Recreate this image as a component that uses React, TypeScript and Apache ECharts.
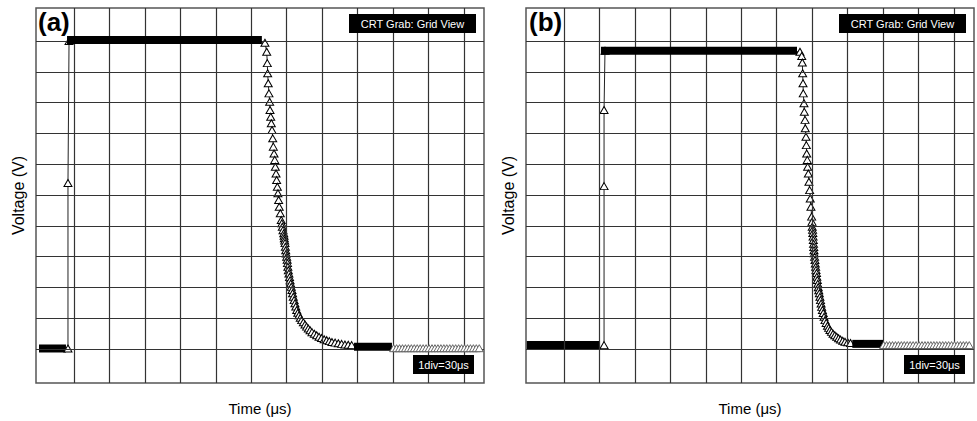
import React, { useEffect, useRef } from "react";
import * as echarts from "echarts";

// Grid divisions (1 div = 30 µs horizontally, 1 div vertically)
const gridTimes = [0, 30, 60, 90, 120, 150, 180, 210, 240, 270, 300, 330];
const gridVolts = [0, 1, 2, 3, 4, 5, 6, 7, 8, 9, 10];

// Panel (a): rise samples followed by the decay samples
const aTimes = [-5.1, -5.1, -4.2, 161.6, 163.1, 163.6, 163.9, 164.4, 165.0, 165.6, 165.9, 166.5, 167.0, 167.6, 168.2, 168.7, 169.3, 169.9, 170.4, 171.0, 171.5, 172.1, 172.6, 173.2, 173.7, 174.6, 175.4, 175.9, 176.3, 176.9, 177.5, 177.8, 178.0, 178.3, 178.6, 178.9, 179.2, 179.6, 180.0, 180.4, 180.7, 181.0, 181.4, 181.9, 182.4, 182.9, 183.4, 183.9, 184.5, 185.0, 185.6, 186.3, 187.0, 187.7, 188.5, 189.4, 190.4, 191.5, 192.7, 194.1, 195.5, 196.9, 198.3, 199.8, 201.4, 203.4, 205.4, 207.4, 209.5, 211.7, 213.9, 216.1, 218.3, 221.0, 223.7, 226.5, 229.3, 232.1, 235.0];
const aVolts = [0.02, 5.39, 10.0, 9.94, 9.65, 9.28, 8.95, 8.63, 8.30, 8.03, 7.76, 7.54, 7.33, 7.11, 6.84, 6.57, 6.35, 6.14, 5.92, 5.70, 5.49, 5.27, 5.06, 4.84, 4.62, 4.41, 4.19, 4.08, 3.97, 3.86, 3.76, 3.68, 3.60, 3.52, 3.44, 3.32, 3.21, 3.10, 3.00, 2.90, 2.79, 2.67, 2.56, 2.45, 2.34, 2.23, 2.13, 2.02, 1.92, 1.81, 1.70, 1.59, 1.49, 1.38, 1.27, 1.18, 1.10, 1.02, 0.94, 0.87, 0.80, 0.73, 0.67, 0.61, 0.55, 0.50, 0.45, 0.40, 0.36, 0.32, 0.29, 0.26, 0.23, 0.21, 0.19, 0.17, 0.15, 0.14, 0.13];
const aLowRun = [-29.6, -6.8];
const aLowLevel = 0.02;
const aHighRun = [-5.9, 159.0];
const aHighLevel = 10.03;
const aTailRun = [237.0, 269.1];
const aTailLevel = 0.08;
const aHatchLevel = 0.03;

// Panel (b)
const bTimes = [33.9, 33.9, 33.9, 34.7, 199.7, 201.2, 201.7, 202.0, 202.3, 202.5, 203.1, 203.4, 204.0, 204.2, 204.8, 205.1, 205.4, 205.9, 206.2, 206.8, 207.3, 207.9, 208.4, 209.0, 209.6, 209.9, 210.1, 210.4, 210.6, 210.8, 211.0, 211.2, 211.4, 211.6, 211.8, 212.1, 212.4, 212.7, 213.0, 213.3, 213.7, 214.0, 214.4, 214.8, 215.2, 215.6, 216.1, 216.6, 217.1, 217.6, 218.1, 218.7, 219.4, 220.1, 220.9, 221.9, 223.0, 224.0, 225.1, 226.4, 227.7, 229.2, 230.8, 232.4, 234.0, 235.9, 237.8, 240.1, 242.5];
const bVolts = [0.13, 5.29, 7.76, 9.68, 9.65, 9.51, 9.30, 8.95, 8.63, 8.30, 7.98, 7.70, 7.44, 7.17, 6.89, 6.62, 6.35, 6.14, 5.92, 5.70, 5.43, 5.16, 4.89, 4.62, 4.30, 4.13, 3.97, 3.87, 3.77, 3.65, 3.54, 3.42, 3.31, 3.21, 3.11, 3.00, 2.89, 2.78, 2.67, 2.57, 2.47, 2.35, 2.24, 2.12, 2.01, 1.91, 1.81, 1.70, 1.59, 1.48, 1.37, 1.27, 1.17, 1.05, 0.94, 0.85, 0.76, 0.69, 0.62, 0.56, 0.50, 0.45, 0.40, 0.35, 0.31, 0.27, 0.24, 0.22, 0.20];
const bLowRun = [-31.5, 30.5];
const bLowLevel = 0.13;
const bHighRun = [31.3, 197.2];
const bHighLevel = 9.68;
const bTailRun = [244.0, 270.0];
const bTailLevel = 0.17;
const bHatchLevel = 0.13;

// Sparser samples at the end of both traces
const hatchTimes = [270.5, 273, 275.5, 278, 280.5, 283, 285.5, 288, 290.5, 293, 295.5, 298, 300.5, 303, 305.5, 308, 310.5, 313, 315.5, 318, 320.5, 323, 325.5, 328, 330.5, 333, 335.5, 338, 340.5, 343];

const xMin = -32.16;
const xMax = 347.0;
const yMin = -1.1;
const yMax = 11.07;

const FONT = '"Liberation Sans", Arial, Helvetica, sans-serif';

function zip(t: number[], v: number[]) {
  return t.map((x, i) => [x, v[i]]);
}
function run(t: number[], level: number) {
  return t.map((x) => [x, level]);
}

function panelSeries(idx: number, times: number[], volts: number[], low: number[], lowL: number, high: number[], highL: number, tail: number[], tailL: number, hatchL: number) {
  const tri = { symbol: "triangle", symbolSize: [8, 7] };
  const bar = (data: number[][], z: number) => ({
    type: "line",
    xAxisIndex: idx,
    yAxisIndex: idx,
    data,
    symbol: "none",
    lineStyle: { color: "#000", width: 8, cap: "butt" },
    z,
  });
  return [
    {
      type: "line",
      xAxisIndex: idx,
      yAxisIndex: idx,
      data: [],
      z: 1,
      markLine: {
        silent: true,
        symbol: ["none", "none"],
        label: { show: false },
        lineStyle: { color: "#333", width: 1.2, type: "solid" },
        emphasis: { disabled: true },
        data: [
          ...gridTimes.map((t) => ({ xAxis: t })),
          ...gridVolts.map((v) => ({ yAxis: v })),
        ],
      },
    },
    bar(run(low, lowL), 3),
    {
      type: "line",
      xAxisIndex: idx,
      yAxisIndex: idx,
      data: zip(times, volts),
      ...tri,
      showSymbol: true,
      lineStyle: { color: "#222", width: 1 },
      itemStyle: { color: "#fff", borderColor: "#000", borderWidth: 1 },
      z: 4,
    },
    bar(run(high, highL), 5),
    bar(run(tail, tailL), 5),
    {
      type: "scatter",
      xAxisIndex: idx,
      yAxisIndex: idx,
      data: run(hatchTimes, hatchL),
      ...tri,
      itemStyle: { color: "#fff", borderColor: "#555", borderWidth: 0.9, opacity: 1 },
      z: 6,
    },
  ];
}

function labelBox(x: number, y: number, w: number, h: number, text: string) {
  return [
    { type: "rect", shape: { x, y, width: w, height: h }, style: { fill: "#000" }, z: 100 },
    {
      type: "text",
      x: x + w / 2,
      y: y + h / 2 + 0.5,
      z: 101,
      style: { text, fill: "#fff", font: `11px ${FONT}`, align: "center", verticalAlign: "middle" },
    },
  ];
}

export default function App() {
  const ref = useRef<HTMLDivElement>(null);
  useEffect(() => {
    if (!ref.current) return;
    const chart = echarts.init(ref.current, null, { renderer: "svg" });
    const grids = [
      { left: 36, top: 8, width: 448, height: 375 },
      { left: 526, top: 8, width: 448, height: 375 },
    ].map((g) => ({ ...g, show: true, borderColor: "#555", borderWidth: 1.5, backgroundColor: "#fff" }));
    const xAxes = [0, 1].map((i) => ({
      type: "value",
      gridIndex: i,
      min: xMin,
      max: xMax,
      axisLine: { show: false },
      axisTick: { show: false },
      axisLabel: { show: false },
      splitLine: { show: false },
      name: "Time (μs)",
      nameLocation: "middle",
      nameGap: 18,
      nameTextStyle: { fontSize: 15, fontFamily: FONT, color: "#000" },
    }));
    const yAxes = [0, 1].map((i) => ({
      type: "value",
      gridIndex: i,
      min: yMin,
      max: yMax,
      axisLine: { show: false },
      axisTick: { show: false },
      axisLabel: { show: false },
      splitLine: { show: false },
      name: "Voltage (V)",
      nameLocation: "middle",
      nameRotate: 90,
      nameGap: 10,
      nameTextStyle: { fontSize: 16, fontFamily: FONT, color: "#000" },
    }));
    chart.setOption({
      animation: false,
      backgroundColor: "#fff",
      grid: grids,
      xAxis: xAxes,
      yAxis: yAxes,
      series: [
        ...panelSeries(0, aTimes, aVolts, aLowRun, aLowLevel, aHighRun, aHighLevel, aTailRun, aTailLevel, aHatchLevel),
        ...panelSeries(1, bTimes, bVolts, bLowRun, bLowLevel, bHighRun, bHighLevel, bTailRun, bTailLevel, bHatchLevel),
      ],
      graphic: [
        { type: "text", x: 38, y: 9, z: 100, style: { text: "(a)", fill: "#000", font: `bold 26px ${FONT}`, align: "left", verticalAlign: "top" } },
        { type: "text", x: 529, y: 9, z: 100, style: { text: "(b)", fill: "#000", font: `bold 26px ${FONT}`, align: "left", verticalAlign: "top" } },
        ...labelBox(349, 14, 127, 19, "CRT Grab: Grid View"),
        ...labelBox(839, 14, 127, 19, "CRT Grab: Grid View"),
        ...labelBox(413, 355, 61, 19, "1div=30μs"),
        ...labelBox(904, 355, 61, 19, "1div=30μs"),
      ],
    });
    return () => chart.dispose();
  }, []);
  return <div ref={ref} style={{ position: "fixed", left: 0, top: 0, width: 977, height: 421, background: "#fff" }} />;
}
